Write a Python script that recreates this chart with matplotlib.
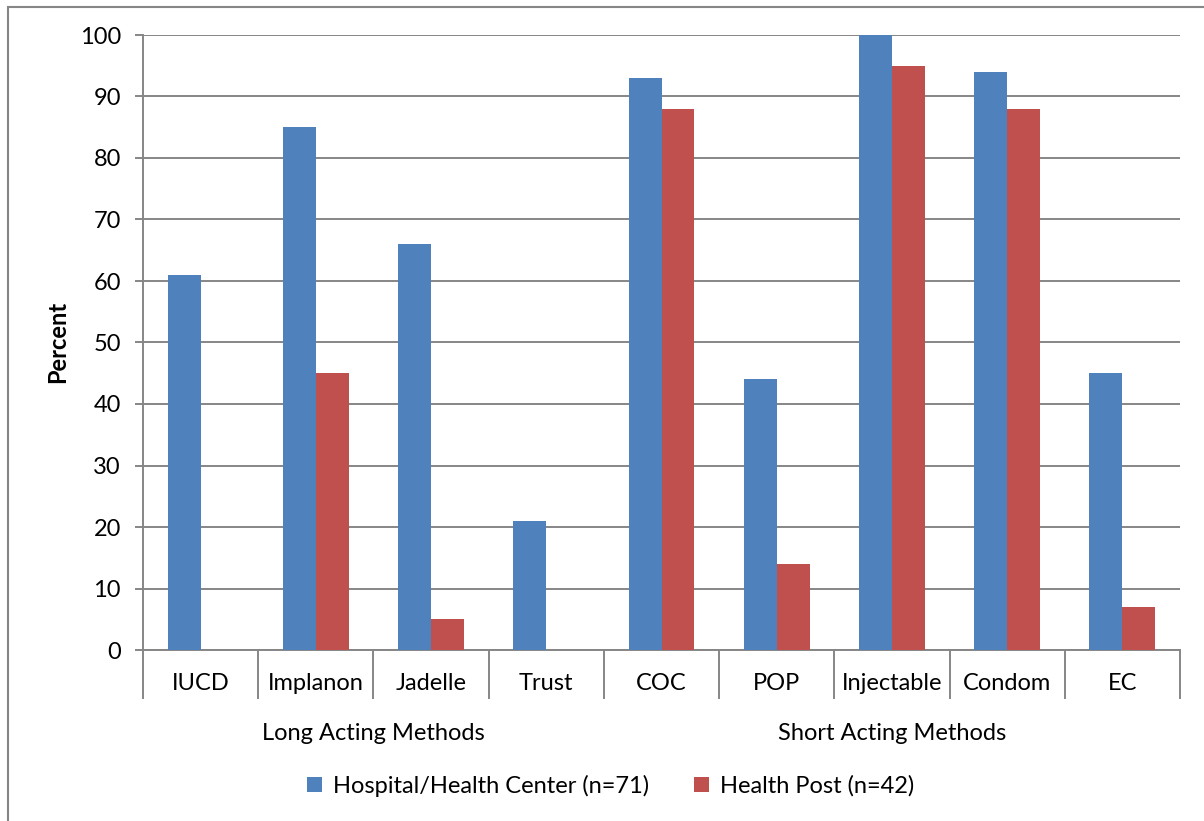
import numpy as np
import matplotlib.pyplot as plt
from matplotlib.patches import Rectangle

# --- data ---
methods = ["IUCD", "Implanon", "Jadelle", "Trust", "COC", "POP", "Injectable", "Condom", "EC"]
hospital = [61, 85, 66, 21, 93, 44, 100, 94, 45]
health_post = [0, 45, 5, 0, 88, 14, 95, 88, 7]
groups = ["Long Acting Methods", "Short Acting Methods"]
group_sizes = [4, 5]
series_names = ["Hospital/Health Center (n=71)", "Health Post (n=42)"]

plt.rcParams['font.family'] = ['Lato', 'DejaVu Sans']
W, H = 1204, 821
grey = "#868686"
blue = "#4F81BD"
red = "#C0504D"
fs = 17

fig = plt.figure(figsize=(W / 100, H / 100), dpi=100)
# outer chart border (only left and top visible in the crop)
fig.patches.append(Rectangle((8 / W, -0.05), 1.2, 1 - 7 / H + 0.05, transform=fig.transFigure,
                             fill=False, edgecolor=grey, linewidth=1.5))

ax = fig.add_axes([143 / W, (H - 650) / H, (1180 - 143) / W, (650 - 35) / H])

x = np.arange(len(methods))
bw = 1 / 3.5
ax.bar(x - bw / 2, hospital, bw, color=blue, label=series_names[0], zorder=3)
ax.bar(x + bw / 2, health_post, bw, color=red, label=series_names[1], zorder=3)

ax.set_xlim(-0.5, len(methods) - 0.5)
ax.set_ylim(0, 100)
ax.set_yticks(np.arange(0, 101, 10))
ax.yaxis.grid(True, color=grey, linewidth=1.4, zorder=0)
ax.set_axisbelow(True)

for s in ["top", "right"]:
    ax.spines[s].set_visible(False)
for s in ["left", "bottom"]:
    ax.spines[s].set_color(grey)
    ax.spines[s].set_linewidth(1.4)

ax.tick_params(axis="y", length=6, width=1.4, color=grey, labelsize=fs, pad=10)

# category separators below the axis
ax.set_xticks([])
ax.set_xticks(np.arange(-0.5, len(methods)), minor=True)
ax.tick_params(axis="x", which="minor", length=35, width=1.4, color=grey, labelbottom=False)

tr = ax.get_xaxis_transform()
for i, m in enumerate(methods):
    ax.text(i, -33 / 615, m, transform=tr, ha="center", va="center", fontsize=fs)

start = 0
for g, n in zip(groups, group_sizes):
    ax.text(start + (n - 1) / 2, -83 / 615, g, transform=tr, ha="center", va="center", fontsize=fs)
    start += n

fig.text(58 / W, 1 - 342 / H, "Percent", rotation=90, ha="center", va="center",
         fontsize=fs, fontweight="bold")

fig.legend(loc="center", bbox_to_anchor=(611 / W, 1 - 786 / H), ncol=2, frameon=False,
           fontsize=fs, handlelength=0.6, handleheight=0.6, handletextpad=0.5,
           columnspacing=1.9)

fig.savefig("out.png", dpi=100)
